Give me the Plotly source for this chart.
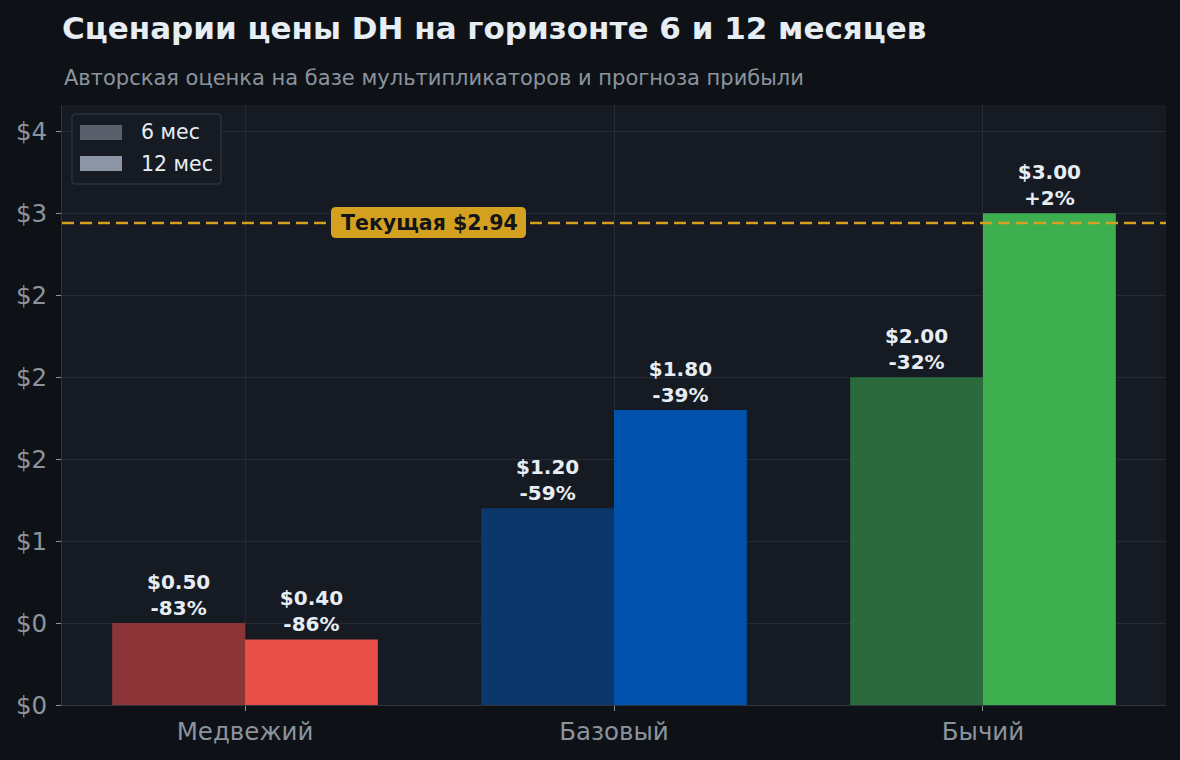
import plotly.graph_objects as go

# scenario data
scenarios = ['Медвежий', 'Базовый', 'Бычий']
price_6m = [0.50, 1.20, 2.00]
price_12m = [0.40, 1.80, 3.00]
current_price = 2.94
yticks = [0, 0.5, 1.0, 1.5, 2.0, 2.5, 3.0, 3.5]
legend_names = ['6 мес', '12 мес']

colors_6m = ['#8b3538', '#0b376b', '#2a6a3c']
colors_12m = ['#ea4e48', '#0052ad', '#3daf4f']
legend_colors = ['#5a5f6b', '#8b95a3']

BG = '#0e1217'
PLOT_BG = '#161a22'
GRID = '#252a33'
MUTED = '#8b949e'
TXT = '#e6edf3'
GOLD = '#d4a020'
FONT = 'DejaVu Sans'

# plot area in pixels (used to place the hand-drawn boxes)
L, R, T, B = 62, 1166, 105, 705


def label(p):
    chg = (p / current_price - 1) * 100
    return f'<b>${p:.2f}<br>{chg:+.0f}%</b>'


def rrect(x0, y0, x1, y1, r=4):
    # rounded rectangle path in paper coords from pixel corners
    px = lambda v: (v - L) / (R - L)
    py = lambda v: (B - v) / (B - T)
    return (f'M{px(x0 + r)},{py(y0)} L{px(x1 - r)},{py(y0)} Q{px(x1)},{py(y0)} {px(x1)},{py(y0 + r)} '
            f'L{px(x1)},{py(y1 - r)} Q{px(x1)},{py(y1)} {px(x1 - r)},{py(y1)} '
            f'L{px(x0 + r)},{py(y1)} Q{px(x0)},{py(y1)} {px(x0)},{py(y1 - r)} '
            f'L{px(x0)},{py(y0 + r)} Q{px(x0)},{py(y0)} {px(x0 + r)},{py(y0)} Z')


fig = go.Figure()
for vals, cols, off in [(price_6m, colors_6m, -0.36), (price_12m, colors_12m, 0.0)]:
    fig.add_trace(go.Bar(
        x=scenarios, y=vals, width=0.36, offset=off,
        marker=dict(color=cols, line=dict(width=0)),
        text=[label(v) for v in vals], textposition='outside',
        textfont=dict(family=FONT, size=20, color=TXT),
        constraintext='none', cliponaxis=False, showlegend=False,
    ))

# current price line + label
fig.add_shape(type='line', xref='paper', x0=0, x1=1, yref='y', y0=current_price, y1=current_price,
              line=dict(color=GOLD, width=2.6, dash='12px,6px'), layer='above')
fig.add_shape(type='path', xref='paper', yref='paper', path=rrect(331, 207, 526, 238, 5),
              fillcolor=GOLD, line=dict(width=0), layer='above')
fig.add_annotation(x=0.5, y=current_price, xref='x', yref='y', text=f'<b>Текущая ${current_price:.2f}</b>',
                   showarrow=False, font=dict(family=FONT, size=20.5, color='#111418'))

# legend (drawn by hand to get the wide patches)
fig.add_shape(type='path', xref='paper', yref='paper', path=rrect(72, 114, 221, 184, 4),
              fillcolor=PLOT_BG, line=dict(color='#2c313a', width=1.5))
for i, (name, c) in enumerate(zip(legend_names, legend_colors)):
    y0 = 125 + i * 31
    fig.add_shape(type='rect', xref='paper', yref='paper',
                  x0=(80 - L) / (R - L), x1=(122 - L) / (R - L),
                  y0=(B - y0) / (B - T), y1=(B - y0 - 15) / (B - T),
                  fillcolor=c, line=dict(width=0))
    fig.add_annotation(x=(139 - L) / (R - L), y=(B - y0 - 7.5) / (B - T), xref='paper', yref='paper',
                       text=name, showarrow=False, xanchor='left', yanchor='middle',
                       font=dict(family=FONT, size=20.5, color=TXT))

fig.add_annotation(x=0, y=(B - 78) / (B - T), xref='paper', yref='paper', xanchor='left', yanchor='middle',
                   showarrow=False, text='Авторская оценка на базе мультипликаторов и прогноза прибыли',
                   font=dict(family=FONT, size=21, color=MUTED))

fig.update_layout(
    width=1180, height=760,
    paper_bgcolor=BG, plot_bgcolor=PLOT_BG,
    margin=dict(l=L, r=1180 - R, t=T, b=760 - B),
    barmode='overlay',
    title=dict(text='<b>Сценарии цены DH на горизонте 6 и 12 месяцев</b>', xref='container', x=L / 1180,
               xanchor='left', y=1 - 28 / 760, yanchor='middle',
               font=dict(family=FONT, size=31, color=TXT)),
    xaxis=dict(range=[-0.496, 2.496], showgrid=True, gridcolor=GRID, gridwidth=1,
               ticks='outside', ticklen=5, tickcolor=MUTED, showline=True, linecolor='#30363d',
               tickfont=dict(family=FONT, size=24.5, color=MUTED), zeroline=False),
    yaxis=dict(range=[0, 3.66], tickvals=yticks, ticktext=[f'${v:.0f}' for v in yticks],
               showgrid=True, gridcolor=GRID, gridwidth=1, ticks='outside', ticklen=5, tickcolor=MUTED,
               showline=True, linecolor='#30363d', zeroline=False, ticklabelstandoff=4,
               tickfont=dict(family=FONT, size=24.5, color=MUTED)),
    font=dict(family=FONT),
)

fig.write_html('out.html', config={'displayModeBar': False},
               post_script="document.body.style.margin='0';")
